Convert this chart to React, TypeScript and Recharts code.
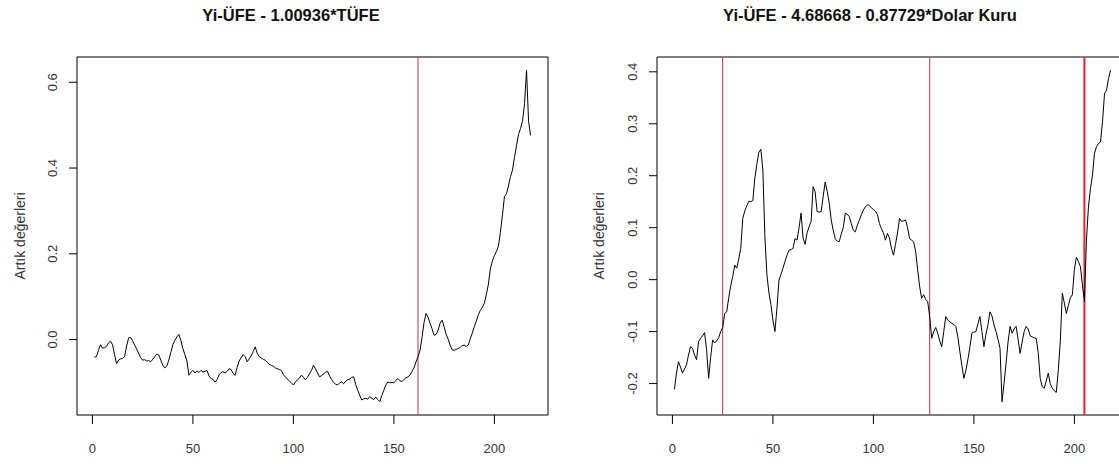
import React from 'react';
import { LineChart, Line, XAxis, YAxis, ReferenceLine, ReferenceArea } from 'recharts';

// residuals of the first regression (index 1..218)
const tufeResiduals = [
  -0.041, -0.040, -0.025, -0.012, -0.020, -0.019, -0.016, -0.008, -0.004, -0.012,
  -0.035, -0.056, -0.048, -0.045, -0.044, -0.040, -0.015, 0.004, 0.005, -0.003,
  -0.013, -0.022, -0.032, -0.042, -0.048, -0.047, -0.050, -0.049, -0.052, -0.046,
  -0.040, -0.034, -0.036, -0.048, -0.060, -0.066, -0.062, -0.048, -0.030, -0.012,
  -0.002, 0.006, 0.012, -0.002, -0.021, -0.035, -0.050, -0.083, -0.076, -0.072,
  -0.078, -0.073, -0.077, -0.072, -0.076, -0.074, -0.072, -0.085, -0.091, -0.093,
  -0.099, -0.094, -0.082, -0.077, -0.075, -0.078, -0.074, -0.068, -0.070, -0.079,
  -0.083, -0.065, -0.050, -0.042, -0.035, -0.040, -0.052, -0.045, -0.038, -0.028,
  -0.017, -0.032, -0.040, -0.043, -0.046, -0.048, -0.053, -0.058, -0.060, -0.062,
  -0.066, -0.068, -0.070, -0.072, -0.082, -0.087, -0.092, -0.097, -0.101, -0.106,
  -0.099, -0.094, -0.090, -0.083, -0.088, -0.094, -0.088, -0.080, -0.072, -0.060,
  -0.068, -0.078, -0.087, -0.084, -0.080, -0.076, -0.074, -0.085, -0.093, -0.100,
  -0.104, -0.106, -0.101, -0.099, -0.103, -0.097, -0.094, -0.092, -0.088, -0.087,
  -0.105, -0.118, -0.130, -0.141, -0.138, -0.137, -0.139, -0.133, -0.137, -0.140,
  -0.134, -0.140, -0.145, -0.130, -0.118, -0.106, -0.099, -0.101, -0.100, -0.101,
  -0.095, -0.091, -0.096, -0.098, -0.093, -0.089, -0.087, -0.083, -0.074, -0.066,
  -0.052, -0.040, -0.025, 0.005, 0.040, 0.061, 0.052, 0.038, 0.025, 0.010,
  0.012, 0.022, 0.038, 0.045, 0.030, 0.012, 0.001, -0.014, -0.024, -0.025,
  -0.023, -0.021, -0.018, -0.014, -0.013, -0.016, -0.013, 0.002, 0.015, 0.030,
  0.043, 0.058, 0.068, 0.075, 0.085, 0.105, 0.128, 0.165, 0.183, 0.196,
  0.205, 0.218, 0.250, 0.290, 0.333, 0.340, 0.358, 0.380, 0.395, 0.425,
  0.452, 0.478, 0.492, 0.510, 0.550, 0.628, 0.510, 0.476,
];

// residuals of the second regression (dollar rate)
const dolarResiduals = [
  -0.211, -0.180, -0.158, -0.168, -0.180, -0.172, -0.164, -0.145, -0.129, -0.132,
  -0.145, -0.154, -0.119, -0.113, -0.108, -0.102, -0.135, -0.190, -0.150, -0.116,
  -0.122, -0.118, -0.112, -0.100, -0.092, -0.065, -0.062, -0.035, -0.012, 0.006,
  0.028, 0.022, 0.040, 0.060, 0.118, 0.132, 0.142, 0.151, 0.150, 0.152,
  0.195, 0.222, 0.245, 0.251, 0.211, 0.083, 0.010, -0.025, -0.048, -0.078,
  -0.100, -0.055, -0.001, 0.010, 0.022, 0.035, 0.047, 0.057, 0.058, 0.060,
  0.079, 0.076, 0.100, 0.128, 0.080, 0.068, 0.090, 0.102, 0.112, 0.179,
  0.169, 0.131, 0.130, 0.131, 0.160, 0.188, 0.170, 0.148, 0.115, 0.095,
  0.079, 0.074, 0.073, 0.088, 0.100, 0.128, 0.126, 0.121, 0.108, 0.095,
  0.092, 0.105, 0.114, 0.125, 0.134, 0.140, 0.144, 0.143, 0.138, 0.135,
  0.132, 0.125, 0.108, 0.098, 0.090, 0.076, 0.089, 0.080, 0.060, 0.047,
  0.068, 0.090, 0.118, 0.112, 0.113, 0.115, 0.100, 0.079, 0.076, 0.073,
  0.055, 0.020, -0.013, -0.036, -0.029, -0.038, -0.042, -0.071, -0.113, -0.100,
  -0.092, -0.103, -0.118, -0.129, -0.100, -0.071, -0.078, -0.081, -0.084, -0.086,
  -0.090, -0.110, -0.138, -0.165, -0.190, -0.175, -0.154, -0.130, -0.103, -0.101,
  -0.100, -0.085, -0.071, -0.100, -0.129, -0.105, -0.087, -0.062, -0.070, -0.087,
  -0.100, -0.115, -0.132, -0.235, -0.200, -0.161, -0.120, -0.090, -0.103, -0.095,
  -0.090, -0.115, -0.142, -0.120, -0.100, -0.090, -0.095, -0.108, -0.110, -0.112,
  -0.113, -0.140, -0.190, -0.206, -0.209, -0.195, -0.180, -0.200, -0.209, -0.214,
  -0.217, -0.174, -0.119, -0.026, -0.045, -0.065, -0.050, -0.035, -0.029, 0.019,
  0.043, 0.035, 0.025, -0.010, -0.042, 0.076, 0.140, 0.175, 0.201, 0.243,
  0.256, 0.262, 0.265, 0.304, 0.358, 0.365, 0.387, 0.403,
];

const xTicks = [0, 50, 100, 150, 200];
const tufeTicks = [0, 0.2, 0.4, 0.6];
const dolarTicks = [-0.2, -0.1, 0, 0.1, 0.2, 0.3, 0.4];
const tufeBreaks = [162];
const dolarBreaks = [25, 128];
const dolarMainBreak = [205];

const FONT = '"Liberation Sans", Arial, Helvetica, sans-serif';

// R style 4% padding
const padded = (lo: number, hi: number): [number, number] => {
  const p = (hi - lo) * 0.04;
  return [lo - p, hi + p];
};

const YTick = (props: any) => {
  const { x, y, payload } = props;
  return (
    <text
      x={x}
      y={y}
      transform={`rotate(-90 ${x} ${y})`}
      textAnchor="middle"
      fontSize={13}
      fontFamily={FONT}
      fill="#333"
    >
      {Number(payload.value).toFixed(1)}
    </text>
  );
};

interface PanelProps {
  values: number[];
  yTicks: number[];
  thinBreaks: number[];
  boldBreaks: number[];
}

const Panel = ({ values, yTicks, thinBreaks, boldBreaks }: PanelProps) => {
  const data = values.map((v, i) => ({ x: i + 1, y: v }));
  const xDomain = padded(1, values.length);
  const yDomain = padded(Math.min(...values), Math.max(...values));

  return (
    <LineChart width={560} height={464} data={data} margin={{ top: 57, right: 12, bottom: 9, left: 0 }}>
      <XAxis
        dataKey="x"
        type="number"
        domain={xDomain}
        ticks={xTicks}
        allowDataOverflow
        axisLine={false}
        tickLine={{ stroke: '#000' }}
        tickSize={9}
        tickMargin={20}
        height={40}
        tick={{ fontSize: 13, fill: '#333', fontFamily: FONT }}
      />
      <YAxis
        type="number"
        domain={yDomain}
        ticks={yTicks}
        allowDataOverflow
        axisLine={false}
        tickLine={{ stroke: '#000' }}
        tickSize={8}
        tickMargin={12}
        width={77}
        tick={<YTick />}
      />
      <ReferenceArea
        x1={xDomain[0]}
        x2={xDomain[1]}
        y1={yDomain[0]}
        y2={yDomain[1]}
        fill="none"
        fillOpacity={0}
        stroke="#000"
        strokeWidth={1}
        ifOverflow="visible"
      />
      {thinBreaks.map((b) => (
        <ReferenceLine key={'t' + b} x={b} stroke="#b03c3a" strokeWidth={1} />
      ))}
      {boldBreaks.map((b) => (
        <ReferenceLine key={'b' + b} x={b} stroke="#e3262b" strokeWidth={2} />
      ))}
      <Line
        type="linear"
        dataKey="y"
        stroke="#000"
        strokeWidth={1}
        dot={false}
        isAnimationActive={false}
      />
    </LineChart>
  );
};

export default function App() {
  return (
    <div
      style={{
        position: 'absolute',
        left: 0,
        top: 0,
        width: 1119,
        height: 464,
        overflow: 'hidden',
        background: '#fff',
      }}
    >
      <div style={{ position: 'absolute', left: 0, top: 0 }}>
        <Panel values={tufeResiduals} yTicks={tufeTicks} thinBreaks={tufeBreaks} boldBreaks={[]} />
      </div>
      <div style={{ position: 'absolute', left: 580, top: 0 }}>
        <Panel values={dolarResiduals} yTicks={dolarTicks} thinBreaks={dolarBreaks} boldBreaks={dolarMainBreak} />
      </div>
      <svg
        width={1119}
        height={464}
        style={{ position: 'absolute', left: 0, top: 0, pointerEvents: 'none' }}
      >
        <text x={291} y={21} textAnchor="middle" fontSize={16.5} fontWeight="bold" fontFamily={FONT} fill="#111">
          Yi-ÜFE - 1.00936*TÜFE
        </text>
        <text x={870} y={21} textAnchor="middle" fontSize={16.5} fontWeight="bold" fontFamily={FONT} fill="#111">
          Yi-ÜFE - 4.68668 - 0.87729*Dolar Kuru
        </text>
        <text transform="translate(25 236) rotate(-90)" textAnchor="middle" fontSize={14} fontFamily={FONT} fill="#333">
          Artık değerleri
        </text>
        <text transform="translate(604 236) rotate(-90)" textAnchor="middle" fontSize={14} fontFamily={FONT} fill="#333">
          Artık değerleri
        </text>
      </svg>
    </div>
  );
}
